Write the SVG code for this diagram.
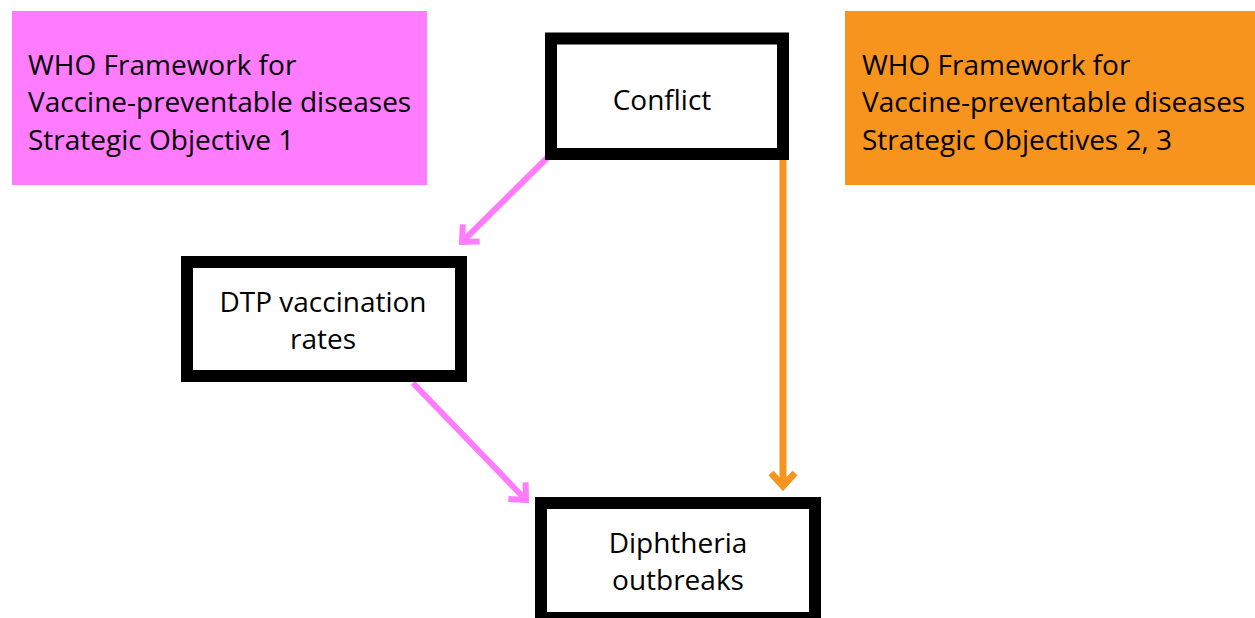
<svg xmlns="http://www.w3.org/2000/svg" width="1255" height="618" viewBox="0 0 1255 618">
<defs>
<style>
.lbl{font-family:"Open Sans","Liberation Sans",sans-serif;font-size:28px;fill:#000;}
.box{fill:#fff;stroke:#000;stroke-width:12;}
.c{text-anchor:middle;}
</style>
<marker id="mp" markerUnits="userSpaceOnUse" viewBox="-20 -15 25 30" markerWidth="25" markerHeight="30" refX="0" refY="0" orient="auto">
<path d="M-13,-12 L0,0 L-13,12" fill="none" stroke="#FF7CFF" stroke-width="6" stroke-linejoin="miter"/>
</marker>
<marker id="mo" markerUnits="userSpaceOnUse" viewBox="-20 -15 25 30" markerWidth="25" markerHeight="30" refX="0" refY="0" orient="auto">
<path d="M-13,-12 L0,0 L-13,12" fill="none" stroke="#F7941D" stroke-width="7" stroke-linejoin="miter"/>
</marker>
</defs>
<rect width="1255" height="618" fill="#fff"/>
<g id="pinkbox">
<rect x="12" y="11" width="415" height="174" fill="#FF7CFF"/>
<text class="lbl" x="28" y="75">WHO Framework for</text>
<text class="lbl" x="28" y="112">Vaccine-preventable diseases</text>
<text class="lbl" x="28" y="150">Strategic Objective 1</text>
</g>
<g id="orangebox">
<rect x="845" y="11" width="410" height="174" fill="#F7941D"/>
<text class="lbl" x="862" y="75">WHO Framework for</text>
<text class="lbl" x="862" y="112">Vaccine-preventable diseases</text>
<text class="lbl" x="862" y="150">Strategic Objectives 2, 3</text>
</g>
<g id="connectors">
<line x1="547" y1="158" x2="462" y2="242" stroke="#FF7CFF" stroke-width="6" marker-end="url(#mp)"/>
<line x1="413" y1="383" x2="526" y2="500" stroke="#FF7CFF" stroke-width="6" marker-end="url(#mp)"/>
<line x1="783" y1="160" x2="783" y2="486" stroke="#F7941D" stroke-width="7" marker-end="url(#mo)"/>
</g>
<g id="conflict">
<rect class="box" x="551" y="38.5" width="232" height="115.5"/>
<text class="lbl c" x="662" y="110">Conflict</text>
</g>
<g id="dtp">
<rect class="box" x="187" y="262" width="274" height="114"/>
<text class="lbl c" x="323" y="312">DTP vaccination</text>
<text class="lbl c" x="323" y="349">rates</text>
</g>
<g id="diphtheria">
<rect class="box" x="541" y="503" width="274" height="115"/>
<text class="lbl c" x="678" y="553">Diphtheria</text>
<text class="lbl c" x="678" y="590">outbreaks</text>
</g>
</svg>
